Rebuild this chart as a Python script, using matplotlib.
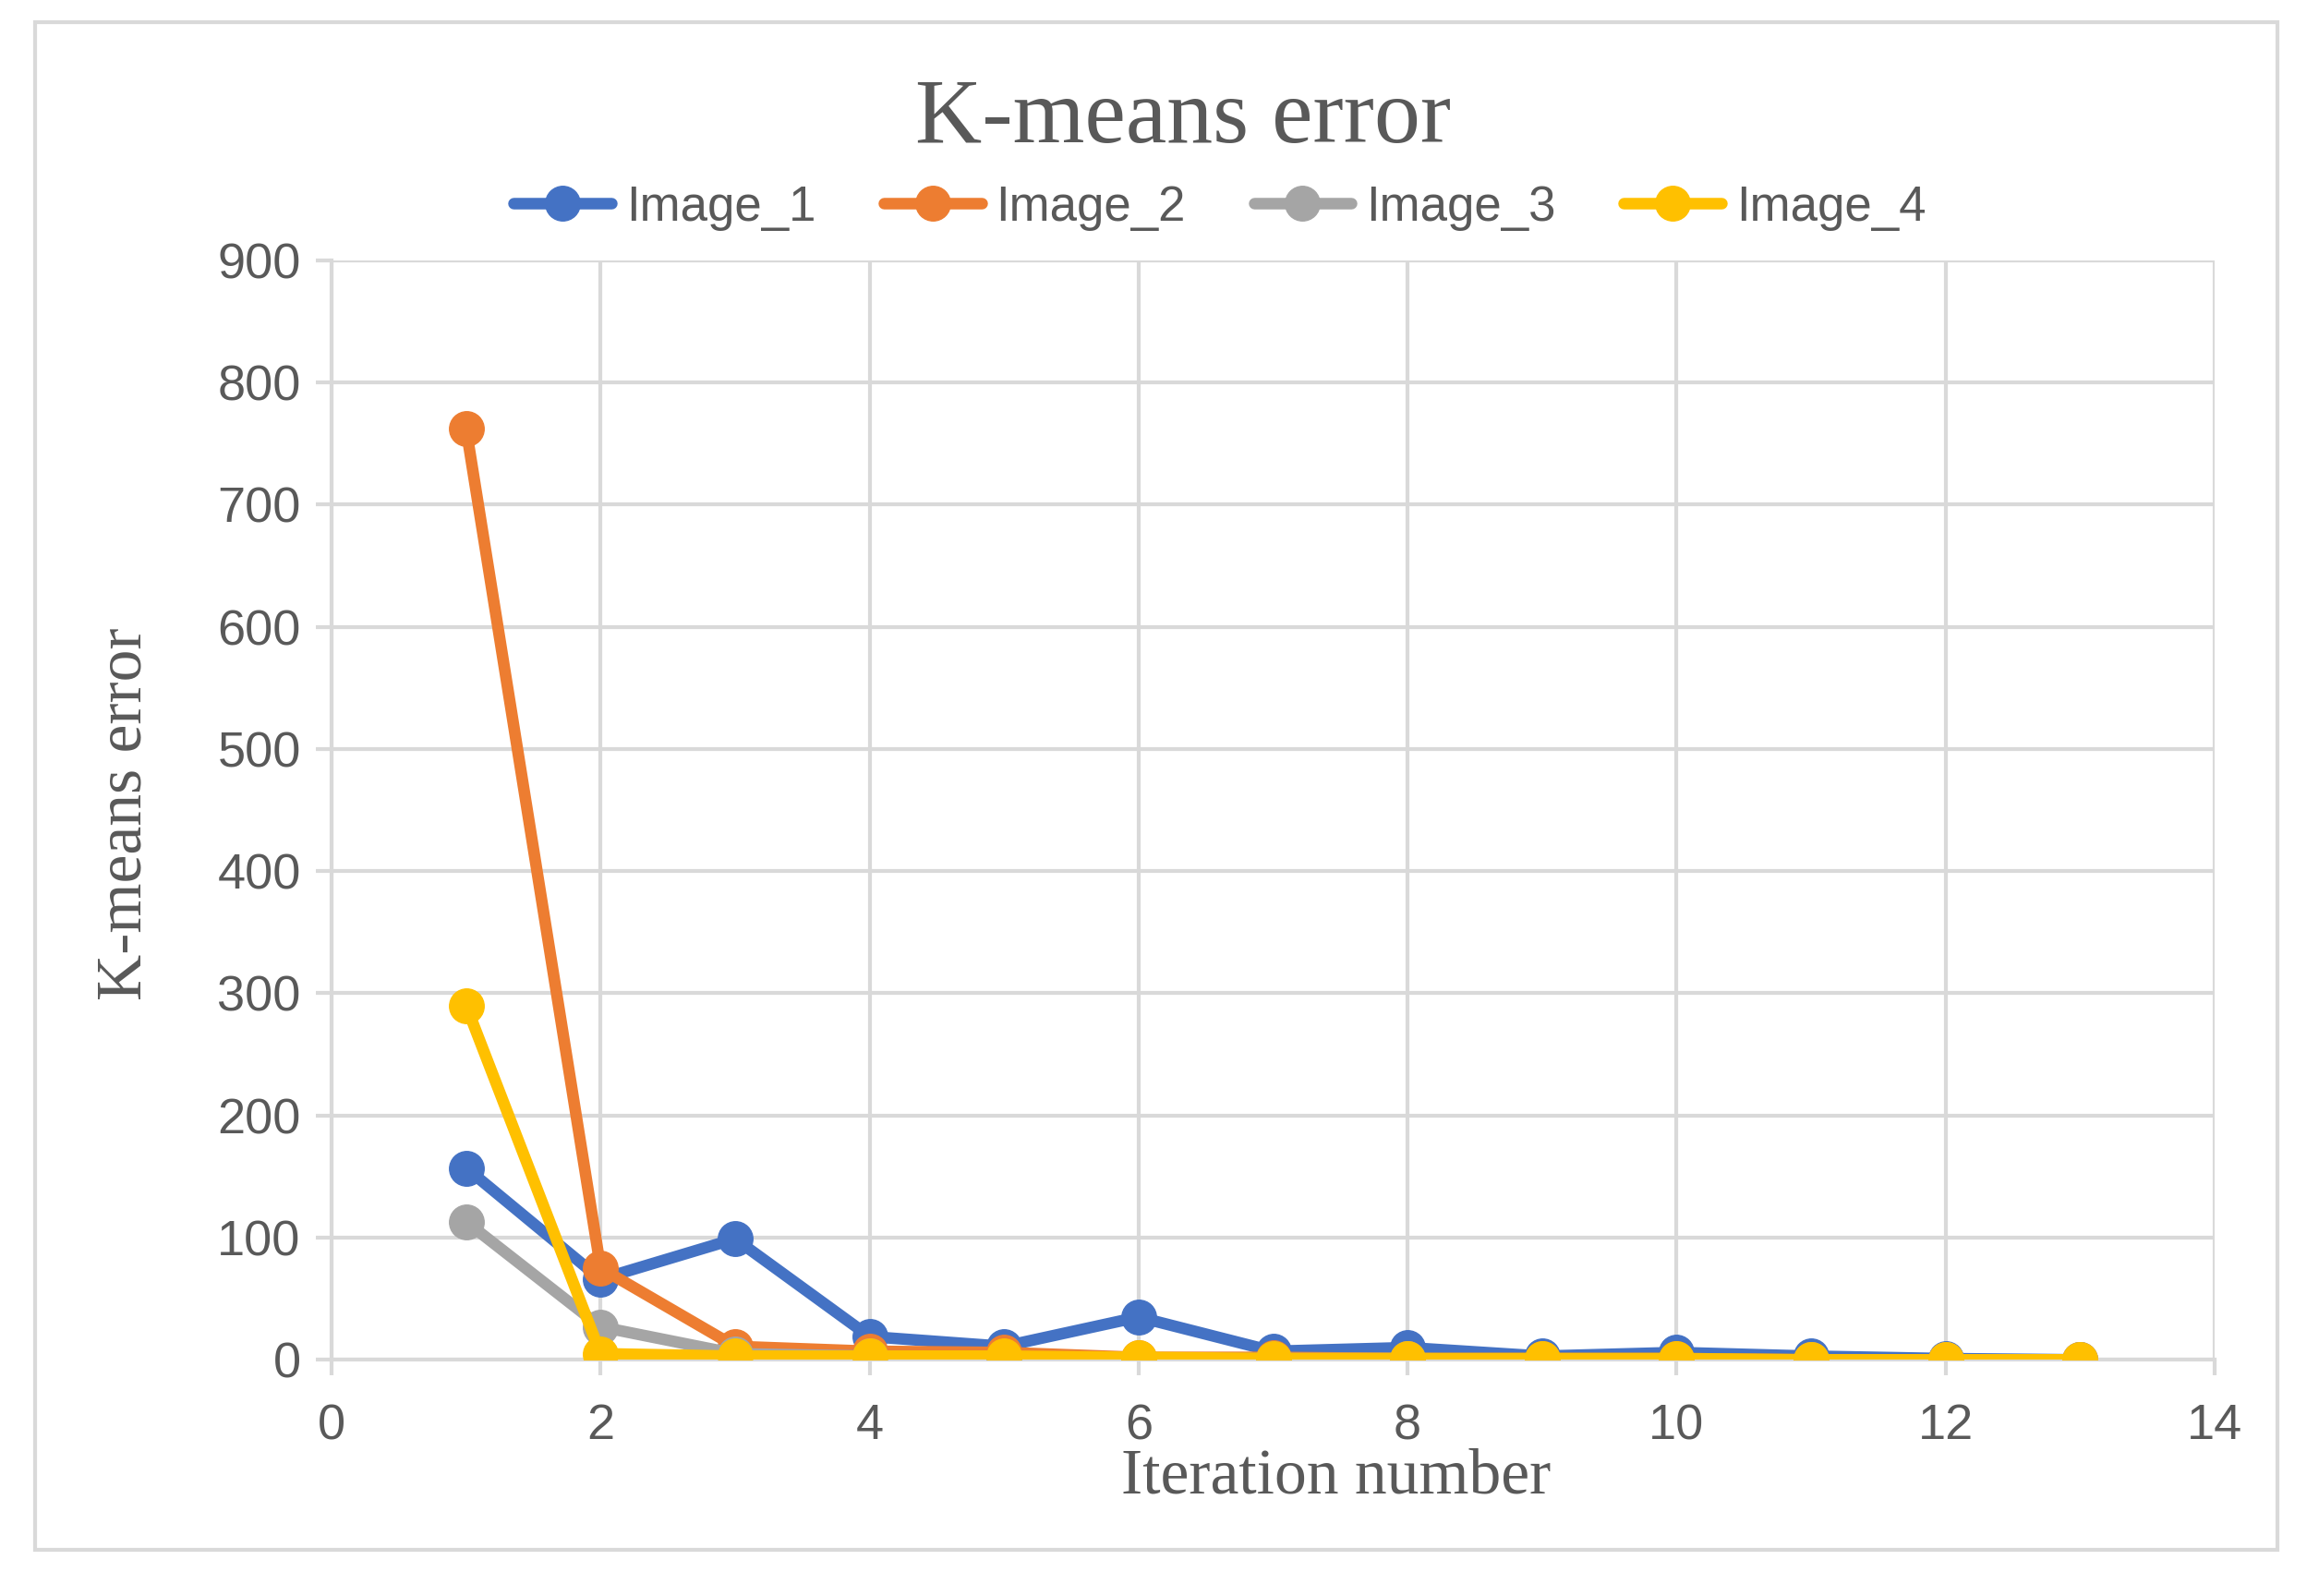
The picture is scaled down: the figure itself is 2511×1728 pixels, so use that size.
"""
K-means error per iteration for four images (Excel-style line chart).
"""

import matplotlib.pyplot as plt
from matplotlib.patches import Rectangle

iterations = [1, 2, 3, 4, 5, 6, 7, 8, 9, 10, 11, 12, 13]
image_1 = [157, 66, 99, 19, 11, 35, 7, 10, 3, 6, 3, 1, 0]
image_2 = [762, 75, 11, 7, 6, 2, 2, 1, 1, 1, 0, 0, 0]
image_3 = [113, 27, 5, 3, 2, 1, 1, 1, 0, 0, 0, 0, 0]
image_4 = [290, 5, 3, 3, 3, 2, 1, 1, 1, 1, 0, 0, 0]

series = [("Image_1", image_1, "#4472C4"),
          ("Image_2", image_2, "#ED7D31"),
          ("Image_3", image_3, "#A5A5A5"),
          ("Image_4", image_4, "#FFC000")]

x_ticks = [0, 2, 4, 6, 8, 10, 12, 14]
y_ticks = [0, 100, 200, 300, 400, 500, 600, 700, 800, 900]

SANS = ["Liberation Sans", "DejaVu Sans"]
SERIF = ["Liberation Serif", "DejaVu Serif"]
GRID = "#d9d9d9"
TEXT = "#595959"


def main():
    fig = plt.figure(figsize=(25.11, 17.28), dpi=100)
    ax = fig.add_axes([0.143, 0.148, 0.812, 0.689])

    for name, vals, color in series:
        ax.plot(iterations, vals, color=color, linewidth=9, marker="o",
                markersize=27, label=name, solid_capstyle="round", zorder=3)

    ax.set_xlim(0, 14)
    ax.set_ylim(0, 900)
    ax.set_xticks(x_ticks)
    ax.set_yticks(y_ticks)
    ax.grid(True, color=GRID, linewidth=3)
    ax.set_axisbelow(True)
    for side in ["top", "right"]:
        ax.spines[side].set_visible(False)
    for side in ["left", "bottom"]:
        ax.spines[side].set_color(GRID)
        ax.spines[side].set_linewidth(3)
    ax.tick_params(axis="both", colors=GRID, width=3, length=12,
                   labelcolor=TEXT, labelsize=39)
    ax.tick_params(axis="x", pad=22)
    ax.tick_params(axis="y", pad=12)
    for lbl in ax.get_xticklabels() + ax.get_yticklabels():
        lbl.set_fontfamily(SANS)

    fig.text(0.51, 0.925, "K-means error", ha="center", va="center",
             fontsize=72, color=TEXT, family=SERIF)
    fig.text(0.054, 0.49, "K-means error", ha="center", va="center",
             rotation=90, fontsize=50, color=TEXT, family=SERIF)
    fig.text(0.576, 0.074, "Iteration number", ha="center", va="center",
             fontsize=50, color=TEXT, family=SERIF)

    leg = fig.legend(loc="center", bbox_to_anchor=(0.526, 0.870), ncol=4,
                     frameon=False, handlelength=2.0, columnspacing=1.4,
                     handletextpad=0.3,
                     prop={"family": SANS, "size": 38})
    for t in leg.get_texts():
        t.set_color(TEXT)

    fig.patches.append(Rectangle((0.015, 0.029), 0.967, 0.957,
                                 transform=fig.transFigure, fill=False,
                                 edgecolor=GRID, linewidth=3))

    fig.savefig("out.png", dpi=100)


if __name__ == "__main__":
    main()
